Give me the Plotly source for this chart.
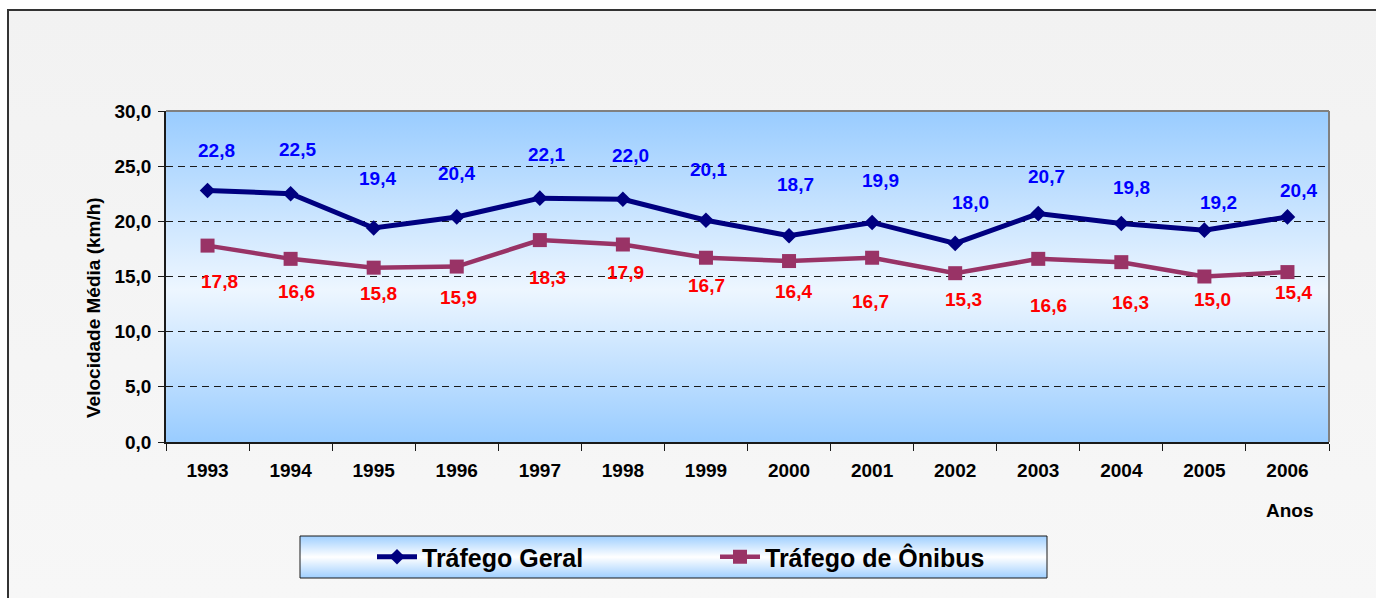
import base64
import plotly.graph_objects as go

# ---- data -------------------------------------------------------------
years = ["1993", "1994", "1995", "1996", "1997", "1998", "1999",
         "2000", "2001", "2002", "2003", "2004", "2005", "2006"]
trafego_geral = [22.8, 22.5, 19.4, 20.4, 22.1, 22.0, 20.1,
                 18.7, 19.9, 18.0, 20.7, 19.8, 19.2, 20.4]
trafego_onibus = [17.8, 16.6, 15.8, 15.9, 18.3, 17.9, 16.7,
                  16.4, 16.7, 15.3, 16.6, 16.3, 15.0, 15.4]
y_ticks = [0, 5, 10, 15, 20, 25, 30]

# hand-placed label offsets (pixels) relative to each marker
geral_label_dx = [9, 7, 4, 0, 7, 8, 3, 6, 8, 15, 8, 10, 14, 11]
geral_label_dy = [40, 44, 49, 43, 44, 44, 51, 51, 42, 41, 37, 36, 28, 26]
onibus_label_dx = [12, 6, 5, 2, 8, 3, 1, 4, -2, 8, 10, 9, 8, 6]
onibus_label_dy = [36, 33, 26, 31, 37, 28, 28, 30, 44, 26, 47, 40, 23, 20]

# ---- page geometry (pixels) ------------------------------------------
W, H = 1376, 598
PLOT_L, PLOT_R, PLOT_T, PLOT_B = 166, 1329, 111, 442
FONT = "Liberation Sans, Arial, sans-serif"


def px_x(p):
    return p / W


def px_y(p):
    return 1 - p / H


def fmt(v):
    return f"{v:.1f}".replace(".", ",")


def gradient_uri(stops):
    tags = "".join(f'<stop offset="{o}" stop-color="{c}"/>' for o, c in stops)
    svg = ('<svg xmlns="http://www.w3.org/2000/svg" width="10" height="100" '
           'viewBox="0 0 10 100" preserveAspectRatio="none">'
           '<defs><linearGradient id="g" x1="0" y1="0" x2="0" y2="1">'
           + tags +
           '</linearGradient></defs>'
           '<rect width="10" height="100" fill="url(#g)"/></svg>')
    return "data:image/svg+xml;base64," + base64.b64encode(svg.encode()).decode()


fig = go.Figure()

fig.add_trace(go.Scatter(
    x=years, y=trafego_geral, name="Tráfego Geral",
    mode="lines+markers",
    line=dict(color="#000080", width=5),
    marker=dict(symbol="diamond", size=12, color="#000080"),
    hoverinfo="skip",
))
fig.add_trace(go.Scatter(
    x=years, y=trafego_onibus, name="Tráfego de Ônibus",
    mode="lines+markers",
    line=dict(color="#993366", width=4.5),
    marker=dict(symbol="square", size=14, color="#993366"),
    hoverinfo="skip",
))

# value labels: x given as the category index so year-like names are not
# read as numeric positions
annotations = []
for i, (v, dx, dy) in enumerate(zip(trafego_geral, geral_label_dx, geral_label_dy)):
    annotations.append(dict(
        x=i, y=v, xref="x", yref="y", text=fmt(v), showarrow=False,
        xshift=dx, yshift=dy, xanchor="center", yanchor="middle",
        font=dict(family=FONT, size=19, color="#0000FF", weight="bold"),
    ))
for i, (v, dx, dy) in enumerate(zip(trafego_onibus, onibus_label_dx, onibus_label_dy)):
    annotations.append(dict(
        x=i, y=v, xref="x", yref="y", text=fmt(v), showarrow=False,
        xshift=dx, yshift=-dy, xanchor="center", yanchor="middle",
        font=dict(family=FONT, size=19, color="#FF0000", weight="bold"),
    ))

# axis titles
annotations.append(dict(
    x=px_x(93), y=px_y(308), xref="paper", yref="paper",
    xanchor="center", yanchor="middle",
    text="Velocidade Média (km/h)", textangle=-90, showarrow=False,
    font=dict(family=FONT, size=19, color="black", weight="bold"),
))
annotations.append(dict(
    x=px_x(1290), y=px_y(510), xref="paper", yref="paper",
    xanchor="center", yanchor="middle",
    text="Anos", showarrow=False,
    font=dict(family=FONT, size=19, color="black", weight="bold"),
))

images = [
    # chart-area background
    dict(source=gradient_uri([(0, "#F2F2F2"), (1, "#F7F7F7")]),
         xref="paper", yref="paper", x=px_x(8), y=px_y(10),
         sizex=1 - px_x(8), sizey=px_y(10), xanchor="left", yanchor="top",
         sizing="stretch", layer="below"),
    # plot-area gradient
    dict(source=gradient_uri([(0, "#99CCFF"), (0.54, "#EDF6FF"), (1, "#99CCFF")]),
         xref="paper", yref="paper", x=px_x(PLOT_L), y=px_y(PLOT_T),
         sizex=(PLOT_R - PLOT_L) / W, sizey=(PLOT_B - PLOT_T) / H,
         xanchor="left", yanchor="top", sizing="stretch", layer="below"),
    # legend box gradient
    dict(source=gradient_uri([(0, "#9FCFFF"), (0.5, "#FFFFFF"), (1, "#9FCFFF")]),
         xref="paper", yref="paper", x=px_x(300), y=px_y(536),
         sizex=(1047 - 300) / W, sizey=(578 - 536) / H,
         xanchor="left", yanchor="top", sizing="stretch", layer="below"),
]

shapes = [
    # outer frame
    dict(type="rect", xref="paper", yref="paper",
         x0=px_x(8), y0=px_y(10), x1=1.02, y1=-0.02,
         line=dict(color="#333333", width=2), fillcolor="rgba(0,0,0,0)"),
    # plot area top and right border
    dict(type="line", xref="paper", yref="paper",
         x0=px_x(PLOT_L), x1=px_x(PLOT_R), y0=px_y(PLOT_T), y1=px_y(PLOT_T),
         line=dict(color="#808080", width=2)),
    dict(type="line", xref="paper", yref="paper",
         x0=px_x(PLOT_R), x1=px_x(PLOT_R), y0=px_y(PLOT_T), y1=px_y(PLOT_B),
         line=dict(color="#808080", width=2)),
    # legend border
    dict(type="rect", xref="paper", yref="paper",
         x0=px_x(300), x1=px_x(1047), y0=px_y(536), y1=px_y(578),
         line=dict(color="#1a1a1a", width=1), fillcolor="rgba(0,0,0,0)"),
]

fig.update_layout(
    width=W, height=H, autosize=False,
    margin=dict(l=0, r=0, t=0, b=0, autoexpand=False),
    paper_bgcolor="white",
    plot_bgcolor="rgba(0,0,0,0)",
    separators=",.",
    font=dict(family=FONT, color="black"),
    showlegend=True,
    legend=dict(
        orientation="h", x=px_x(372), y=px_y(557),
        xanchor="left", yanchor="middle",
        bgcolor="rgba(0,0,0,0)", borderwidth=0,
        font=dict(family=FONT, size=25, color="black", weight="bold"),
        entrywidth=288, itemwidth=40,
    ),
    xaxis=dict(
        type="category", categoryorder="array", categoryarray=years,
        domain=[px_x(PLOT_L), px_x(PLOT_R)], range=[-0.5, 13.5],
        showline=True, linecolor="#1a1a1a", linewidth=1.5,
        ticks="outside", tickson="boundaries", ticklen=7, tickcolor="#1a1a1a",
        ticklabelstandoff=10,
        showgrid=False, zeroline=False, automargin=False,
        tickfont=dict(family=FONT, size=19, color="black", weight="bold"),
        fixedrange=True,
    ),
    yaxis=dict(
        domain=[px_y(PLOT_B), px_y(PLOT_T)], range=[0, 30],
        tickvals=y_ticks, tickformat=".1f",
        showline=True, linecolor="#1a1a1a", linewidth=1.5,
        ticks="outside", ticklen=6, tickcolor="#1a1a1a",
        ticklabelstandoff=3,
        showgrid=True, gridcolor="#1a1a1a", gridwidth=1, griddash="7px,5px",
        zeroline=False, automargin=False,
        tickfont=dict(family=FONT, size=19, color="black", weight="bold"),
        fixedrange=True,
    ),
    annotations=annotations,
    images=images,
    shapes=shapes,
)

fig.write_html("out.html")
